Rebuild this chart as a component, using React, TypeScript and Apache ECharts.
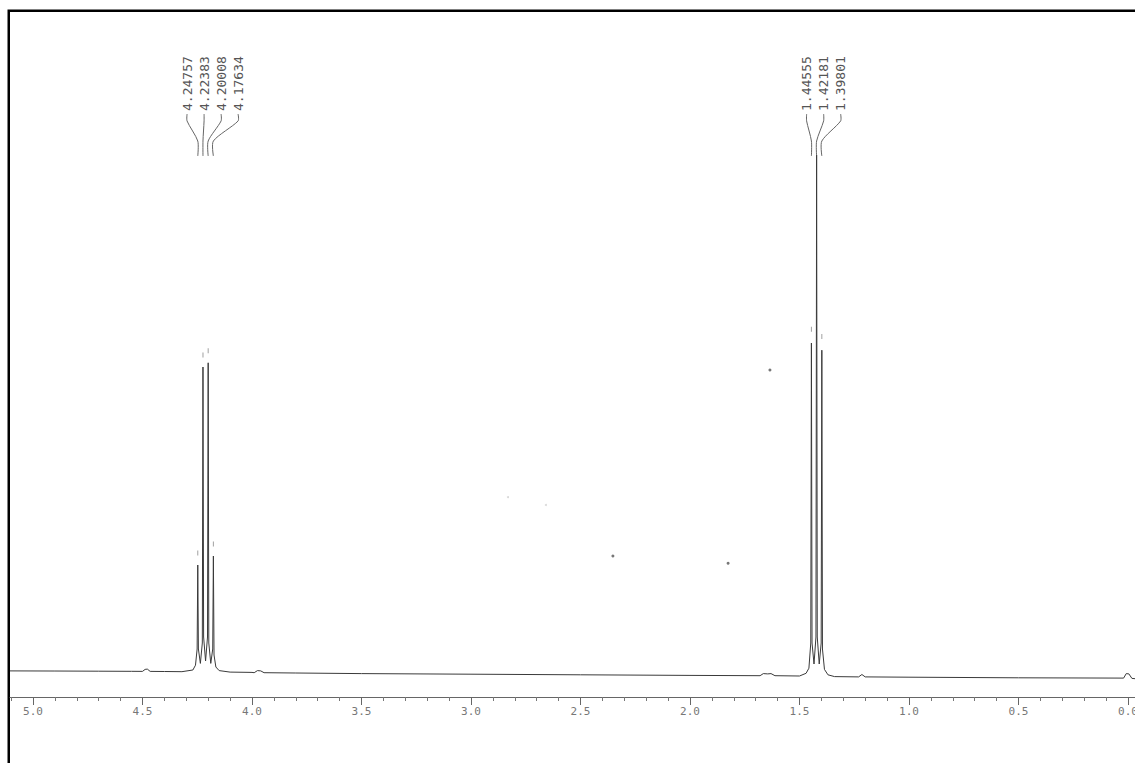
import { useEffect, useRef } from "react";
import * as echarts from "echarts";

// Axis tick values (ppm)
const majorTicks = [0, 0.5, 1.0, 1.5, 2.0, 2.5, 3.0, 3.5, 4.0, 4.5, 5.0];
const minorTicks = [
  0.1, 0.2, 0.3, 0.4, 0.6, 0.7, 0.8, 0.9, 1.1, 1.2, 1.3, 1.4, 1.6, 1.7, 1.8, 1.9,
  2.1, 2.2, 2.3, 2.4, 2.6, 2.7, 2.8, 2.9, 3.1, 3.2, 3.3, 3.4, 3.6, 3.7, 3.8, 3.9,
  4.1, 4.2, 4.3, 4.4, 4.6, 4.7, 4.8, 4.9, 5.1,
];

// Peak picks
const quartetPeaks = [4.24757, 4.22383, 4.20008, 4.17634];
const quartetLabels = ["4.24757", "4.22383", "4.20008", "4.17634"];
const quartetTops = [22.0, 55.0, 55.7, 23.5];
const tripletPeaks = [1.44555, 1.42181, 1.39801];
const tripletLabels = ["1.44555", "1.42181", "1.39801"];
const tripletTops = [59.0, 90.3, 57.8];

// Spectrum trace [ppm, intensity]
const spectrum: [number, number][] = [
  [5.105, 4.35], [4.9, 4.33], [4.7, 4.3], [4.55, 4.28],
  [4.5, 4.27], [4.488, 4.6], [4.478, 4.65], [4.465, 4.27],
  [4.4, 4.25], [4.32, 4.22], [4.27, 4.5], [4.258, 5.3],
  [4.2505, 8.0], [4.2476, 22.0], [4.2447, 8.0], [4.2357, 5.6],
  [4.2268, 9.0], [4.2238, 55.0], [4.2209, 10.0], [4.212, 6.0],
  [4.2031, 10.0], [4.2001, 55.7], [4.1972, 9.0], [4.1882, 5.6],
  [4.1793, 8.0], [4.1763, 23.5], [4.1734, 7.0], [4.165, 5.0],
  [4.15, 4.4], [4.1, 4.15], [4.0, 4.1], [3.99, 4.05], [3.975, 4.4],
  [3.96, 4.35], [3.945, 4.05], [3.8, 4.0], [3.5, 3.9], [3.0, 3.8],
  [2.5, 3.7], [2.0, 3.6], [1.68, 3.55], [1.665, 3.9], [1.645, 3.85],
  [1.63, 3.9], [1.612, 3.55], [1.5, 3.5], [1.47, 3.95], [1.457, 4.8],
  [1.4485, 9.0], [1.4456, 59.0], [1.4427, 9.0], [1.4337, 5.5],
  [1.4248, 10.0], [1.4218, 90.3], [1.4189, 10.0], [1.4099, 5.5],
  [1.401, 9.0], [1.398, 57.8], [1.3951, 8.0], [1.386, 4.6],
  [1.37, 3.7], [1.34, 3.4], [1.23, 3.35], [1.215, 3.75], [1.2, 3.35],
  [1.0, 3.3], [0.5, 3.2], [0.02, 3.15], [0.008, 3.9], [-0.004, 3.85],
  [-0.018, 3.1], [-0.032, 3.05],
];

// Stray specks on the scan
const specks: [number, number][] = [
  [1.635, 54.5], [2.352, 23.5], [1.826, 22.3],
];
const faintSpecks: [number, number][] = [
  [2.658, 32.0], [2.831, 33.3],
];

export default function App() {
  const ref = useRef<HTMLDivElement>(null);
  useEffect(() => {
    document.body.style.margin = "0";
    if (!ref.current) return;
    const chart = echarts.init(ref.current, null, { renderer: "svg" });

    const labelItems: any[] = [];
    const labelTexts: string[] = [];
    const qCenter = (quartetPeaks[0] + quartetPeaks[quartetPeaks.length - 1]) / 2;
    quartetPeaks.forEach((p, i) => {
      labelItems.push([p, i, quartetPeaks.length, qCenter]);
      labelTexts.push(quartetLabels[i]);
    });
    const tCenter = (tripletPeaks[0] + tripletPeaks[tripletPeaks.length - 1]) / 2;
    tripletPeaks.forEach((p, i) => {
      labelItems.push([p, i, tripletPeaks.length, tCenter]);
      labelTexts.push(tripletLabels[i]);
    });

    const pickMarks: [number, number][] = [];
    quartetPeaks.forEach((p, i) => pickMarks.push([p, quartetTops[i] + 2]));
    tripletPeaks.forEach((p, i) => {
      if (i !== 1) pickMarks.push([p, tripletTops[i] + 2.3]);
    });

    const xBase = {
      type: "value",
      min: -0.032,
      max: 5.105,
      inverse: true,
      position: "bottom",
      splitLine: { show: false },
    };

    chart.setOption({
      animation: false,
      backgroundColor: "#ffffff",
      grid: {
        left: 10,
        right: 0,
        top: 97,
        bottom: 66,
        containLabel: false,
        outerBoundsMode: "none",
      },
      xAxis: [
        {
          ...xBase,
          axisLine: { show: true, lineStyle: { color: "#666", width: 1 } },
          axisTick: { show: true, customValues: majorTicks, length: 8, lineStyle: { color: "#666" } },
          axisLabel: {
            show: true,
            customValues: majorTicks,
            formatter: (v: number) => v.toFixed(1),
            color: "#777",
            fontFamily: "DejaVu Sans Mono",
            fontSize: 11,
            margin: 9,
          },
        },
        {
          ...xBase,
          axisLine: { show: false },
          axisTick: { show: true, customValues: minorTicks, length: 4, lineStyle: { color: "#777" } },
          axisLabel: { show: false },
        },
      ],
      yAxis: { type: "value", min: 0, max: 100, show: false },
      series: [
        {
          type: "line",
          data: spectrum,
          showSymbol: false,
          symbol: "none",
          lineStyle: { color: "#3a3a3a", width: 1 },
          z: 3,
        },
        {
          type: "scatter",
          data: pickMarks,
          symbol: "rect",
          symbolSize: [1, 5],
          itemStyle: { color: "#888" },
        },
        {
          type: "scatter",
          data: specks,
          symbol: "circle",
          symbolSize: 3,
          itemStyle: { color: "#555" },
        },
        {
          type: "scatter",
          data: faintSpecks,
          symbol: "circle",
          symbolSize: 2,
          itemStyle: { color: "#ccc" },
        },
        {
          type: "custom",
          data: labelItems,
          clip: false,
          renderItem: (params: any, api: any) => {
            const ppm = api.value(0);
            const idx = api.value(1);
            const n = api.value(2);
            const center = api.value(3);
            const peakX = api.coord([ppm, 0])[0];
            const cX = api.coord([center, 0])[0];
            const lx = cX + 7 + (idx - (n - 1) / 2) * 17;
            return {
              type: "group",
              children: [
                {
                  type: "polyline",
                  shape: {
                    points: [[lx, 114], [lx, 121], [peakX, 141], [peakX, 156]],
                    smooth: 0.25,
                  },
                  style: { stroke: "#666", lineWidth: 1, fill: null },
                },
                {
                  type: "text",
                  x: lx,
                  y: 111,
                  rotation: Math.PI / 2,
                  style: {
                    text: labelTexts[params.dataIndex],
                    fill: "#555",
                    font: '13px "DejaVu Sans Mono"',
                    align: "left",
                    verticalAlign: "middle",
                  },
                },
              ],
            };
          },
        },
      ],
      graphic: [
        {
          type: "rect",
          shape: { x: 8.75, y: 10.75, width: 1300, height: 900 },
          style: { stroke: "#000", lineWidth: 2.5, fill: "none" },
          silent: true,
        },
      ],
    });
    return () => chart.dispose();
  }, []);
  return <div ref={ref} style={{ width: 1135, height: 763 }} />;
}
